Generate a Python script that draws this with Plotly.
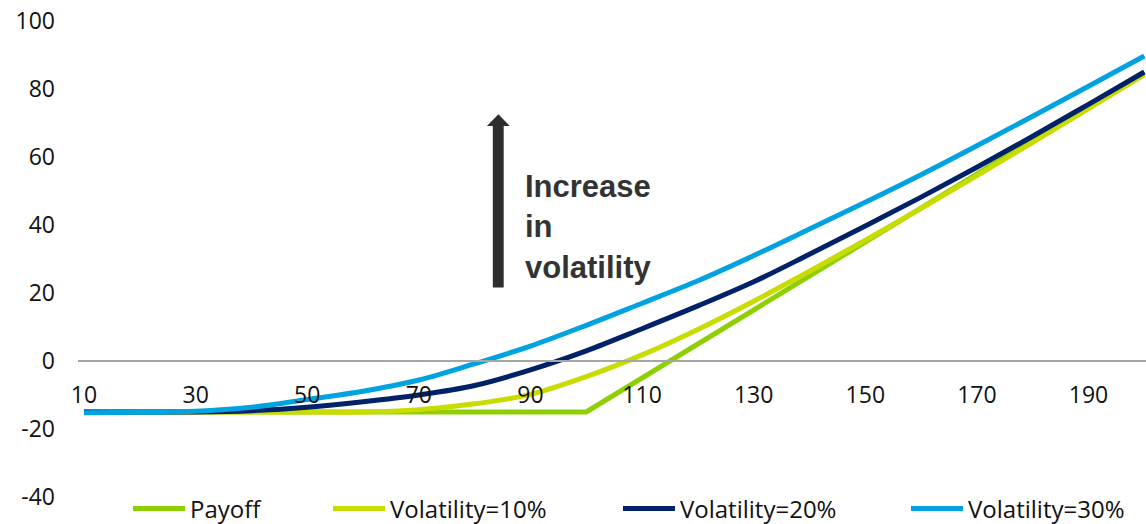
import plotly.graph_objects as go

# Underlying price grid
spot = [10, 20, 30, 40, 50, 60, 70, 80, 90, 100, 110, 120, 130, 140, 150, 160, 170, 180, 190, 200]

# Payoff at expiry (strike 100, premium 15)
payoff_x = [10, 100, 200]
payoff_y = [-15, -15, 85]

# Option value before expiry for three volatility levels
vol10 = [-15, -15, -15, -15, -15, -15, -14.3, -12.6, -9.8, -4.6, 1.8, 9.3, 17.6, 26.4, 35.5, 44.9, 54.5, 64.3, 74.2, 84.2]
vol20 = [-15, -15, -15, -14.6, -13.6, -12.0, -10.0, -7.2, -2.6, 3.0, 9.5, 16.2, 23.3, 31.4, 39.7, 48.2, 57.0, 66.1, 75.5, 85.0]
vol30 = [-15.2, -15.1, -14.8, -13.6, -11.3, -8.9, -5.6, -0.8, 4.4, 10.5, 17.0, 23.6, 31.0, 38.8, 46.7, 54.8, 63.3, 72.0, 80.8, 89.7]

x_ticks = [10, 30, 50, 70, 90, 110, 130, 150, 170, 190]
y_ticks = [-40, -20, 0, 20, 40, 60, 80, 100]
y_tick_text = ["-40", "-20", "0", "20", "40", "60", "80", "100"]

series = [
    ("Payoff", payoff_x, payoff_y, "#8DCF00", "linear", "legend"),
    ("Volatility=10%", spot, vol10, "#C8DC00", "spline", "legend2"),
    ("Volatility=20%", spot, vol20, "#012169", "spline", "legend3"),
    ("Volatility=30%", spot, vol30, "#00A3E0", "spline", "legend4"),
]

fig = go.Figure()
for name, xs, ys, color, shape, leg in series:
    fig.add_trace(go.Scatter(
        x=xs, y=ys, name=name, mode="lines",
        line=dict(color=color, width=5, shape=shape, smoothing=1.0),
        legend=leg,
    ))

tick_font = dict(family="Open Sans", size=23, color="#111111")
legend_font = dict(family="Open Sans", size=24, color="#111111")
legend_common = dict(
    orientation="h", yanchor="middle", y=-12 / 476,
    xanchor="left", font=legend_font, bgcolor="rgba(0,0,0,0)", itemwidth=52,
)
legend_x = [0.0468, 0.2341, 0.5056, 0.7753]

fig.update_layout(
    width=1146, height=524,
    margin=dict(l=78, r=0, t=21, b=27, autoexpand=False),
    paper_bgcolor="white", plot_bgcolor="white",
    showlegend=True,
    legend=dict(x=legend_x[0], **legend_common),
    legend2=dict(x=legend_x[1], **legend_common),
    legend3=dict(x=legend_x[2], **legend_common),
    legend4=dict(x=legend_x[3], **legend_common),
    xaxis=dict(
        range=[8.92, 200.3], tickvals=x_ticks, showgrid=False, zeroline=False,
        anchor="free", position=40 / 140, showline=True, linecolor="#A6A6A6",
        linewidth=2, ticks="", tickfont=tick_font, ticklabelstandoff=13,
    ),
    yaxis=dict(
        range=[-40, 100], tickvals=y_ticks, ticktext=y_tick_text, showgrid=False,
        zeroline=False, showline=False, ticks="", tickfont=tick_font,
        ticklabelstandoff=22,
    ),
)

# Upward arrow marking rising volatility
fig.add_shape(
    type="path", xref="x", yref="y",
    path="M 83.25,21.6 L 85.2,21.6 L 85.2,69.1 L 86.3,69.1 L 84.25,72.6 L 82.2,69.1 L 83.25,69.1 Z",
    fillcolor="#2E2E2E", line=dict(width=0),
)
fig.add_annotation(
    x=88.6, y=39.4, xref="x", yref="y", xanchor="left", yanchor="middle",
    text="<b>Increase<br>in<br>volatility</b>", showarrow=False, align="left",
    font=dict(family="Liberation Sans", size=31, color="#333333"),
)

fig.write_html("out.html")
